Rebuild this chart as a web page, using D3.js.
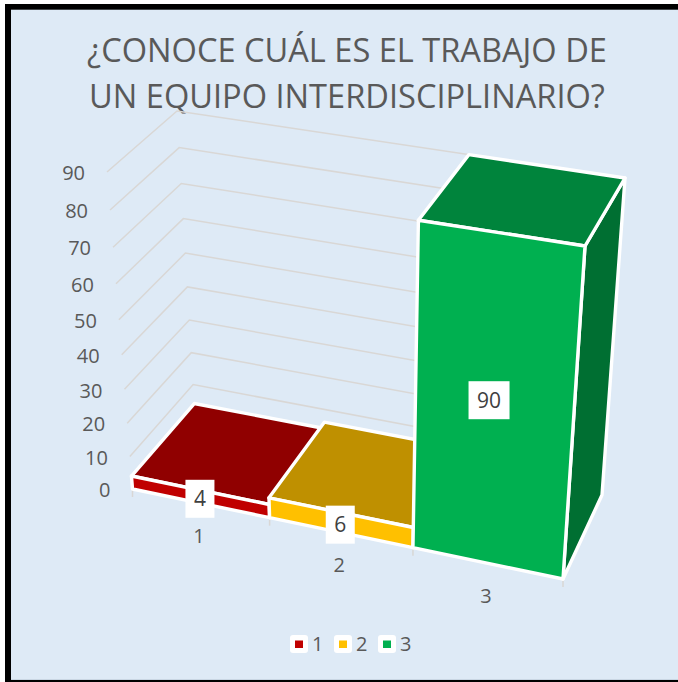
<!DOCTYPE html>
<html><head><meta charset="utf-8">
<script src="https://cdn.jsdelivr.net/npm/d3@7/dist/d3.min.js"></script>
<style>html,body{margin:0;padding:0;background:#fff}svg{display:block}text{font-family:"Open Sans",sans-serif;fill:#595959}</style>
</head><body><svg id="c" width="678" height="682"></svg>
<script>
const titleLines = ["¿CONOCE CUÁL ES EL TRABAJO DE", "UN EQUIPO INTERDISCIPLINARIO?"];
const categories = ["1", "2", "3"];
const values = [4, 6, 90];
const tickValues = [0, 10, 20, 30, 40, 50, 60, 70, 80, 90];
const frontColors = ["#C00000", "#FFC000", "#00B050"];
const topColors = ["#900000", "#BF9000", "#00843C"];
const sideColors = ["#700000", "#8F6F00", "#006F32"];

const svg = d3.select("#c");
// Screen corners of the 3D plot box: [valueEnd][depth][categoryEnd]
const box = {
  floor: { front: [[132.5, 489], [563, 579]], back: [[195, 416], [602, 495]] },
  ceil:  { front: [[107, 172], [585, 246]],   back: [[177, 111], [625, 178]] }
};
const warp = k => t => t / (t + k * (1 - t));
const yScale = d3.scaleLinear().domain([0, 90]).range([0, 1]);
const xBand = d3.scaleBand().domain(categories).range([0, 1]).paddingInner(0).paddingOuter(0);
const wx = warp(1.07), wy = warp(1.09);
const lerp = (a, b, t) => [a[0] + (b[0] - a[0]) * t, a[1] + (b[1] - a[1]) * t];
function project(u, v, w) {
  const U = wx(u), V = wy(yScale(v));
  const fl = lerp(box.floor.front[0], box.ceil.front[0], V), fr = lerp(box.floor.front[1], box.ceil.front[1], V);
  const bl = lerp(box.floor.back[0], box.ceil.back[0], V), br = lerp(box.floor.back[1], box.ceil.back[1], V);
  return lerp(lerp(fl, fr, U), lerp(bl, br, U), w);
}
const poly = pts => d3.line()(pts) + "Z";

svg.append("rect").attr("width", 678).attr("height", 682).attr("fill", "#fff");
svg.append("rect").attr("x", 11).attr("y", 9).attr("width", 667).attr("height", 671).attr("fill", "#C9D6E3");
svg.append("rect").attr("x", 11).attr("y", 9).attr("width", 667).attr("height", 670).attr("fill", "#DEEAF6");
svg.append("rect").attr("x", 5).attr("y", 4).attr("width", 673).attr("height", 5.7).attr("fill", "#000");
svg.append("rect").attr("x", 5).attr("y", 4).attr("width", 6).attr("height", 678).attr("fill", "#000");
svg.append("rect").attr("x", 5).attr("y", 680).attr("width", 673).attr("height", 2).attr("fill", "#000");

// title
svg.append("g").selectAll("text").data(titleLines).join("text")
  .attr("x", 347).attr("y", (d, i) => 62 + i * 46)
  .attr("text-anchor", "middle").attr("font-size", 32.6).text(d => d);

// gridlines on left and back walls, value labels
const grid = svg.append("g").selectAll("g").data(tickValues).join("g");
grid.append("path").attr("fill", "none").attr("stroke", "#D9D7D5").attr("stroke-width", 1.5)
  .attr("d", v => d3.line()([project(0, v, 0), project(0, v, 1), project(1, v, 1)]));
grid.append("text").attr("text-anchor", "end").attr("font-size", 20).attr("dy", "0.36em")
  .attr("x", v => project(0, v, 0)[0] - 22).attr("y", v => project(0, v, 0)[1] + 1)
  .text(v => v);

// category ticks
svg.append("g").selectAll("path").data([0, 1, 2, 3]).join("path")
  .attr("stroke", "#D9D7D5").attr("stroke-width", 1.5)
  .attr("d", i => { const p = project(i / 3, 0, 0); return d3.line()([p, [p[0], p[1] + 8]]); });

// bars
const bars = svg.append("g").selectAll("g").data(values).join("g");
const u0 = i => xBand(categories[i]);
const u1 = i => xBand(categories[i]) + xBand.bandwidth();
const face = (fill, f) => bars.append("path").attr("fill", (d, i) => fill[i])
  .attr("stroke", "#fff").attr("stroke-width", 3.4).attr("stroke-linejoin", "round")
  .attr("d", (d, i) => poly(f(d, i)));
face(sideColors, (d, i) => [project(u1(i), 0, 0), project(u1(i), d, 0), project(u1(i), d, 1), project(u1(i), 0, 1)]);
face(topColors, (d, i) => [project(u0(i), d, 0), project(u1(i), d, 0), project(u1(i), d, 1), project(u0(i), d, 1)]);
face(frontColors, (d, i) => [project(u0(i), 0, 0), project(u1(i), 0, 0), project(u1(i), d, 0), project(u0(i), d, 0)]);

// data labels and category labels
const center = (d, i) => {
  const a = project(u0(i), 0, 0), b = project(u1(i), 0, 0), c = project(u0(i), d, 0), e = project(u1(i), d, 0);
  const botX = (a[0] + b[0]) / 2, topX = (c[0] + e[0]) / 2;
  return [botX + (topX - botX) * 0.15 - 1, (a[1] + b[1] + c[1] + e[1]) / 4];
};
const labels = svg.append("g").selectAll("g").data(values).join("g")
  .attr("transform", (d, i) => { const c = center(d, i); return `translate(${c[0]},${c[1] + 2})`; });
labels.append("rect").attr("x", d => String(d).length > 1 ? -20.5 : -14.5).attr("y", -19)
  .attr("width", d => String(d).length > 1 ? 41 : 29).attr("height", 38).attr("fill", "#fff");
labels.append("text").attr("text-anchor", "middle").attr("dy", "0.36em").attr("font-size", 21)
  .style("fill", "#404040").text(d => d);

svg.append("g").selectAll("text").data(categories).join("text")
  .attr("text-anchor", "middle").attr("font-size", 20).attr("dy", "0.36em")
  .attr("x", (d, i) => (project(u0(i), 0, 0)[0] + project(u1(i), 0, 0)[0]) / 2 - 2)
  .attr("y", (d, i) => (project(u0(i), 0, 0)[1] + project(u1(i), 0, 0)[1]) / 2 + 32)
  .text(d => d);

// legend
const legendX = d3.scalePoint().domain(categories).range([290, 378]);
const leg = svg.append("g").selectAll("g").data(categories).join("g")
  .attr("transform", d => `translate(${legendX(d)},635)`);
leg.append("rect").attr("width", 18).attr("height", 18).attr("rx", 3).attr("fill", "#fff");
leg.append("rect").attr("x", 5).attr("y", 5.5).attr("width", 8).attr("height", 7.5).attr("fill", (d, i) => frontColors[i]);
leg.append("text").attr("x", 22).attr("y", 9).attr("dy", "0.36em").attr("font-size", 20).text(d => d);
</script></body></html>
